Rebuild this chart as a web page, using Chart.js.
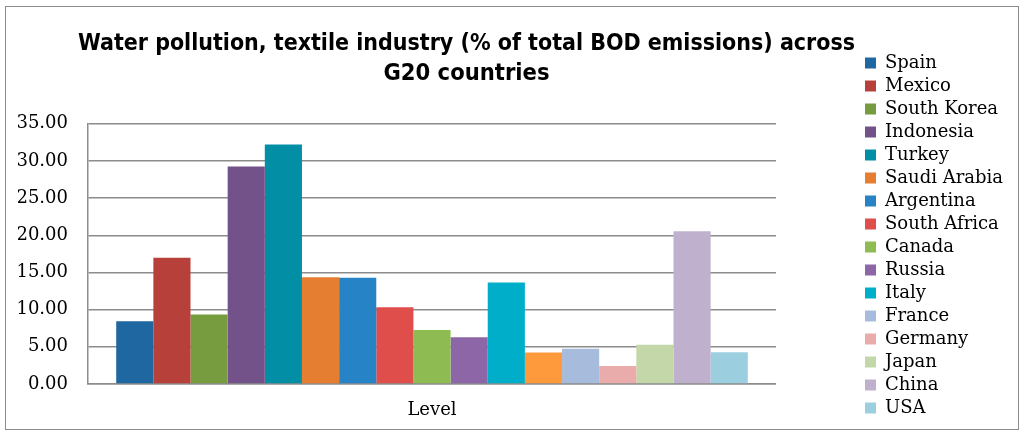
<!DOCTYPE html>
<html>
<head>
<meta charset="utf-8">
<script src="https://cdn.jsdelivr.net/npm/chart.js@4"></script>
<style>
  html, body { margin: 0; padding: 0; background: #fff; }
  #wrap { position: relative; width: 1024px; height: 436px; }
  #frame { position: absolute; left: 5px; top: 6px; width: 1012px; height: 422px; border: 1px solid #8c8c8c; }
  canvas { position: absolute; left: 0; top: 0; }
</style>
</head>
<body>
<div id="wrap">
  <div id="frame"></div>
  <canvas id="bodChart" width="1024" height="436"></canvas>
</div>
<script>
// categories / series
const category = ['Level'];
const countries = ['Spain', 'Mexico', 'South Korea', 'Indonesia', 'Turkey', 'Saudi Arabia', 'Argentina',
  'South Africa', 'Canada', 'Russia', 'Italy', '', 'France', 'Germany', 'Japan', 'China', 'USA'];
const values = [8.44, 16.96, 9.33, 29.25, 32.2, 14.36, 14.27, 10.32, 7.27, 6.28, 13.64, 4.22,
  4.75, 2.42, 5.29, 20.55, 4.26];
const colors = ['#1F67A0', '#B8403B', '#779B3F', '#735189', '#028FA6', '#E57E31', '#2683C6',
  '#E04E4C', '#8FBC52', '#8C66A6', '#00AEC9', '#FF9A3C', '#A7BCDC', '#EAACAA', '#C4D7A9',
  '#BFB1CD', '#9BCFDF'];
const yTicks = [0, 5, 10, 15, 20, 25, 30, 35];

const serif = "'DejaVu Serif', 'Liberation Serif', serif";

// move title and legend where the original has them
const placeBoxes = {
  id: 'placeBoxes',
  afterLayout(chart) {
    const t = chart.titleBlock;
    if (t) { t.left = 78; t.right = 855; t.width = t.right - t.left; }
    const lg = chart.legend;
    if (lg) {
      const dx = 860 - lg.left, dy = 49 - lg.top;
      lg.left += dx; lg.right += dx;
      lg.top += dy; lg.bottom += dy;
    }
  }
};

new Chart(document.getElementById('bodChart'), {
  type: 'bar',
  data: {
    labels: category,
    datasets: countries.map((name, i) => ({
      label: name,
      data: [values[i]],
      backgroundColor: colors[i],
      borderWidth: 0
    }))
  },
  plugins: [placeBoxes],
  options: {
    responsive: false,
    animation: false,
    devicePixelRatio: 1,
    categoryPercentage: 0.918,
    barPercentage: 1.0,
    layout: { padding: { left: 18, right: 95, top: 10, bottom: 15 } },
    plugins: {
      title: {
        display: true,
        fullSize: false,
        text: ['Water pollution, textile industry (% of total BOD emissions) across', 'G20 countries'],
        color: '#000',
        font: { family: "'Liberation Sans Narrow', 'DejaVu Sans Condensed', 'Roboto', sans-serif", size: 23.5, weight: 'bold', lineHeight: 1.27 },
        padding: { top: 19, bottom: 35 }
      },
      legend: {
        position: 'right',
        align: 'start',
        labels: {
          boxWidth: 11,
          boxHeight: 11,
          padding: 5,
          color: '#000',
          font: { family: serif, size: 18 },
          filter: item => item.text !== ''
        }
      },
      tooltip: { enabled: false }
    },
    scales: {
      x: {
        afterFit(scale) { scale.height = 37; },
        grid: { display: false, drawTicks: false },
        border: { display: true, color: '#8c8c8c', width: 1.5 },
        ticks: { color: '#000', padding: 16, font: { family: serif, size: 18 } }
      },
      y: {
        min: 0,
        max: 35,
        afterFit(scale) { scale.width = 70; },
        afterBuildTicks(scale) { scale.ticks = yTicks.map(v => ({ value: v })); },
        grid: { color: '#8c8c8c', lineWidth: 1.5, drawTicks: false },
        border: { display: true, color: '#8c8c8c', width: 1.5 },
        ticks: {
          color: '#000',
          padding: 20,
          font: { family: serif, size: 18 },
          callback: v => v.toFixed(2)
        }
      }
    }
  }
});
</script>
</body>
</html>
